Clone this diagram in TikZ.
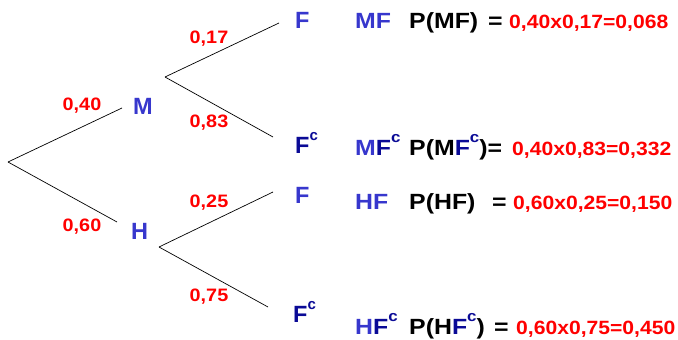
\documentclass[tikz,border=0pt]{standalone}
\usepackage{fontspec}
\setmainfont{Liberation Sans}
\newfontfamily\wf{Liberation Sans}[FakeStretch=1.1]
\newfontfamily\wff{Liberation Sans}[FakeStretch=1.13]
\definecolor{lblue}{RGB}{55,55,205}
\definecolor{dblue}{RGB}{10,10,150}
\definecolor{pred}{RGB}{255,0,0}
\newcommand{\supc}{{\fontsize{15}{15}\selectfont\raisebox{13pt}{c}}}
\begin{document}
\begin{tikzpicture}[x=1pt,y=-1pt,
  txt/.style={inner sep=0pt,anchor=base west,font=\bfseries},
  big/.style={txt,font=\fontsize{23.5}{23.5}\selectfont\bfseries},
  evt/.style={big,text=lblue},
  evtc/.style={big,text=dblue},
  prob/.style={txt,text=pred,font=\wf\fontsize{18}{18}\selectfont\bfseries},
  res/.style={txt,text=pred,font=\wf\fontsize{19.2}{19.2}\selectfont\bfseries},
  form/.style={txt,font=\wff\fontsize{22}{22}\selectfont\bfseries},
  branch/.style={draw=black,line width=0.7pt}]
\useasboundingbox (0,0) rectangle (678,340);
% tree coordinates
\coordinate (r) at (8,162);
\coordinate (mend) at (122,108);
\coordinate (hend) at (117,222);
\coordinate (ms) at (165,77);
\coordinate (mf) at (279,23);
\coordinate (mfc) at (273,137);
\coordinate (hs) at (159,247);
\coordinate (hf) at (273,192);
\coordinate (hfc) at (268,307);
\draw[branch] (r) -- (mend);
\draw[branch] (r) -- (hend);
\draw[branch] (ms) -- (mf);
\draw[branch] (ms) -- (mfc);
\draw[branch] (hs) -- (hf);
\draw[branch] (hs) -- (hfc);
% event labels
\node[evt] (M) at (133,114) {M};
\node[evt] (H) at (131,239) {H};
\node[evt] (F1) at (295,28) {F};
\node[evtc] (F2) at (295,153) {F\supc};
\node[evt] (F3) at (295,203) {F};
\node[evtc] (F4) at (293,322) {F\supc};
% probabilities
\node[prob,anchor=center] (p40) at (82,106) {0,40};
\node[prob,anchor=center] (p60) at (82,227) {0,60};
\node[prob,anchor=center] (p17) at (209,39) {0,17};
\node[prob,anchor=center] (p83) at (209,123) {0,83};
\node[prob,anchor=center] (p25) at (209,203) {0,25};
\node[prob,anchor=center] (p75) at (209,297) {0,75};
% results
\node[form,text=lblue] (l1) at (355,28) {MF};
\node[form] (f1) at (409,28) {P(MF)};
\node[form] (e1) at (488,28) {=};
\node[res] (v1) at (509,28) {0,40x0,17=0,068};
\node[form] (l2) at (355,155) {\textcolor{lblue}{M}\textcolor{dblue}{F\supc}};
\node[form] (f2) at (409,155) {P(M\textcolor{dblue}{F\supc})=};
\node[res] (v2) at (512,155) {0,40x0,83=0,332};
\node[form,text=lblue] (l3) at (355,209) {HF};
\node[form] (f3) at (409,209) {P(HF)};
\node[form] (e3) at (492,209) {=};
\node[res] (v3) at (513,209) {0,60x0,25=0,150};
\node[form] (l4) at (355,334) {\textcolor{lblue}{H}\textcolor{dblue}{F\supc}};
\node[form] (f4) at (409,334) {P(H\textcolor{dblue}{F\supc})};
\node[form] (e4) at (494,334) {=};
\node[res] (v4) at (516,334) {0,60x0,75=0,450};
\end{tikzpicture}
\end{document}
